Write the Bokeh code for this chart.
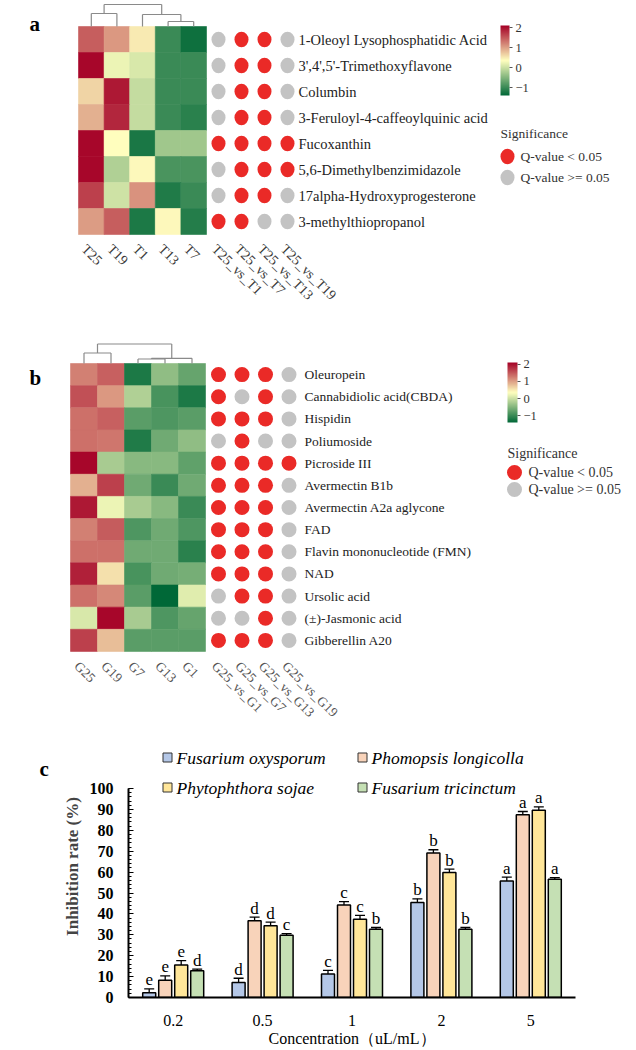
import numpy as np
from bokeh.plotting import figure
from bokeh.models import (Range1d, LinearColorMapper, ColorBar, FixedTicker,
                          ColumnDataSource, Whisker, TeeHead)
from bokeh.layouts import column, row
from bokeh.transform import transform
from bokeh.embed import file_html
from bokeh.resources import INLINE
from bokeh.core.properties import value

FONT = "Liberation Serif"

# ---------------- panel a data ----------------
a_cols = ["T25", "T19", "T1", "T13", "T7"]
a_rows = ["1-Oleoyl Lysophosphatidic Acid", "3',4',5'-Trimethoxyflavone", "Columbin",
          "3-Feruloyl-4-caffeoylquinic acid", "Fucoxanthin", "5,6-Dimethylbenzimidazole",
          "17alpha-Hydroxyprogesterone", "3-methylthiopropanol"]
a_vals = [
    [1.45, 1.05, 0.50, -1.00, -1.30],
    [2.05, 0.22, 0.08, -1.00, -1.00],
    [0.65, 1.93, -0.05, -1.00, -1.00],
    [0.89, 1.83, -0.05, -1.00, -1.10],
    [2.05, 0.35, -1.22, -0.30, -0.30],
    [2.05, -0.19, 0.40, -0.89, -0.89],
    [1.66, 0.02, 1.10, -1.18, -1.00],
    [1.03, 1.45, -1.20, 0.40, -1.15],
]
a_comp = ["T25_vs_T1", "T25_vs_T7", "T25_vs_T13", "T25_vs_T19"]
a_sig = [[0, 1, 1, 0], [0, 1, 1, 0], [0, 1, 1, 0], [0, 1, 1, 0],
         [1, 1, 1, 1], [0, 1, 1, 1], [0, 1, 1, 0], [1, 1, 0, 0]]
# merges: (left node, right node, height)
a_merges = [(3, 4, 5.0), (0, 1, 13.0), (2, 5, 12.0), (6, 7, 22.0)]

# ---------------- panel b data ----------------
b_cols = ["G25", "G19", "G7", "G13", "G1"]
b_rows = ["Oleuropein", "Cannabidiolic acid(CBDA)", "Hispidin", "Poliumoside", "Picroside III",
          "Avermectin B1b", "Avermectin A2a aglycone", "FAD", "Flavin mononucleotide (FMN)",
          "NAD", "Ursolic acid", "(\u00b1)-Jasmonic acid", "Gibberellin A20"]
b_vals = [
    [1.22, 1.44, -1.20, -0.41, -0.69],
    [1.55, 1.06, -0.19, -0.90, -1.20],
    [1.33, 1.44, -0.78, -0.86, -0.78],
    [1.33, 1.28, -1.18, -0.63, -0.41],
    [2.05, -0.25, -0.47, -0.47, -0.74],
    [0.89, 1.66, -0.63, -1.00, -0.63],
    [1.93, 0.22, -0.25, -0.47, -1.00],
    [1.22, 1.47, -0.86, -0.63, -0.86],
    [1.33, 1.33, -0.63, -0.63, -1.10],
    [1.88, 0.56, -0.90, -0.63, -0.58],
    [1.33, 1.17, -0.78, -1.40, 0.14],
    [0.08, 2.05, -0.25, -0.86, -0.69],
    [1.66, 0.79, -0.78, -0.78, -0.78],
]
b_comp = ["G25_vs_G1", "G25_vs_G7", "G25_vs_G13", "G25_vs_G19"]
b_sig = [[1, 1, 1, 0], [1, 0, 1, 0], [1, 1, 1, 0], [0, 1, 0, 0], [1, 1, 1, 1],
         [1, 1, 1, 0], [1, 1, 1, 0], [1, 1, 1, 0], [1, 1, 1, 0], [1, 1, 1, 0],
         [0, 1, 1, 0], [0, 0, 1, 0], [1, 1, 1, 0]]
b_merges = [(2, 3, 4.5), (5, 4, 5.2), (0, 1, 10.5), (7, 6, 19.5)]

# ---------------- panel c data ----------------
conc = ["0.2", "0.5", "1", "2", "5"]
species = ["Fusarium oxysporum", "Phomopsis longicolla", "Phytophthora sojae", "Fusarium tricinctum"]
sp_colors = ["#b4c7e7", "#f8d3ba", "#ffe699", "#c5e0b4"]
rate_fo = [2.3, 7.2, 11.2, 45.4, 55.8]
rate_pl = [8.3, 36.7, 44.3, 69.1, 87.4]
rate_ps = [15.6, 34.3, 37.5, 59.8, 89.6]
rate_ft = [12.8, 29.8, 32.7, 32.7, 56.6]
err_fo = [1.8, 2.0, 1.8, 1.8, 1.8]
err_pl = [2.0, 1.8, 1.6, 1.6, 1.6]
err_ps = [2.0, 1.8, 1.8, 1.6, 1.6]
err_ft = [0.8, 0.8, 0.8, 0.8, 0.8]
let_fo = ["e", "d", "c", "b", "a"]
let_pl = ["e", "d", "c", "b", "a"]
let_ps = ["e", "d", "c", "b", "a"]
let_ft = ["d", "c", "b", "b", "a"]

# ---------------- colour map ----------------
def ramp(c_list, n=256):
    cols = [tuple(int(c[i:i + 2], 16) for i in (1, 3, 5)) for c in c_list]
    out = []
    segs = len(cols) - 1
    for k in range(n):
        t = k / (n - 1) * segs
        s = min(int(t), segs - 1)
        f = t - s
        c0, c1 = cols[s], cols[s + 1]
        out.append("#%02x%02x%02x" % tuple(int(round(c0[i] + (c1[i] - c0[i]) * f)) for i in range(3)))
    return out

palette = ramp(["#006837", "#ffffbf", "#a50026"])
mapper = LinearColorMapper(palette=palette, low=-1.4, high=2.1)
RED, GRAY = "#ea2a27", "#c3c3c3"
W = 636


def base_fig(w, h):
    p = figure(width=w, height=h, x_range=Range1d(0, w), y_range=Range1d(h, 0),
               toolbar_location=None, output_backend="svg", min_border=0,
               x_axis_type=None, y_axis_type=None, outline_line_color=None,
               frame_align=False)
    p.xgrid.visible = False
    p.ygrid.visible = False
    return p


def heat_panel(p, cols, rows, vals, comp, sig, merges, lay):
    left, top, cw, ch = lay["left"], lay["top"], lay["cw"], lay["ch"]
    xs, ys, vv = [], [], []
    for i, r in enumerate(rows):
        for j, c in enumerate(cols):
            xs.append(left + cw * (j + 0.5))
            ys.append(top + ch * (i + 0.5))
            vv.append(vals[i][j])
    src = ColumnDataSource(dict(x=xs, y=ys, v=vv))
    p.rect("x", "y", width=cw, height=ch, source=src,
           fill_color=transform("v", mapper), line_color=transform("v", mapper), line_width=0.6)
    # dendrogram
    n = len(cols)
    nx = {i: left + cw * (i + 0.5) for i in range(n)}
    nh = {i: 0.0 for i in range(n)}
    x0, y0, x1, y1 = [], [], [], []
    s = lay["dscale"]
    for k, (a, b, h) in enumerate(merges):
        xa, xb = nx[a], nx[b]
        ya, yb, yh = top - nh[a] * s, top - nh[b] * s, top - h * s
        x0 += [xa, xa, xb]; y0 += [ya, yh, yb]
        x1 += [xa, xb, xb]; y1 += [yh, yh, yh]
        nx[n + k] = (xa + xb) / 2
        nh[n + k] = h
    p.segment(x0, y0, x1, y1, line_color="#8a8a8a", line_width=1.2)
    # significance dots
    dx, dy, dc = [], [], []
    for i in range(len(rows)):
        for k in range(len(comp)):
            dx.append(lay["dot0"] + lay["dstep"] * k)
            dy.append(top + ch * (i + 0.5))
            dc.append(RED if sig[i][k] else GRAY)
    p.ellipse(dx, dy, width=lay["dw"], height=lay["dh"], fill_color=dc, line_color=None)
    # row labels
    p.text([lay["lab_x"]] * len(rows), [top + ch * (i + 0.5) for i in range(len(rows))], text=rows,
           text_font=value(FONT), text_font_size=lay["fs"], text_color="#222222",
           text_baseline="middle", text_align="left")
    # column labels (rotated)
    bottom = top + ch * len(rows)
    lx = [left + cw * (j + 0.5) - 2 for j in range(n)] + [lay["dot0"] + lay["dstep"] * k + 1 for k in range(len(comp))]
    p.text(lx, [bottom + 7] * len(lx), text=cols + comp, angle=-np.pi / 4,
           text_font=value(FONT), text_font_size=lay["cfs"], text_color=lay["ccol"],
           text_baseline="top", text_align="left")
    # colour bar
    cb = ColorBar(color_mapper=mapper, location=lay["cb_loc"], width=lay["cb_w"], height=lay["cb_h"],
                  ticker=FixedTicker(ticks=[-1, 0, 1, 2]), major_label_overrides={-1: "\u22121"},
                  padding=0, label_standoff=3, bar_line_color=None, border_line_color=None,
                  background_fill_alpha=0, major_tick_in=0, major_tick_out=3,
                  major_tick_line_color="#555555", minor_tick_line_color=None,
                  major_label_text_font=FONT, major_label_text_font_size="12.5px",
                  major_label_text_color="#333333")
    p.add_layout(cb)
    # significance legend
    gx, gy = lay["sig_xy"]
    lfs = lay["lfs"]
    p.text([gx], [gy], text=["Significance"], text_font=value(FONT), text_font_size=lfs,
           text_color="#333333", text_baseline="middle")
    ly = [gy + lay["sig_gap"], gy + 2 * lay["sig_gap"] - 2]
    p.ellipse([gx + lay["sig_dx"]] * 2, ly,
              width=lay["dw"], height=lay["dh"], fill_color=[RED, GRAY], line_color=None)
    p.text([gx + lay["sig_tx"]] * 2, ly,
           text=["Q-value < 0.05", "Q-value >= 0.05"], text_font=value(FONT), text_font_size=lfs,
           text_color="#333333", text_baseline="middle")
    # panel letter
    p.text([lay["let_xy"][0]], [lay["let_xy"][1]], text=[lay["letter"]], text_font=value(FONT),
           text_font_size="21px", text_font_style="bold", text_color="black",
           text_baseline="alphabetic")


# ---------------- panel a ----------------
HA = 318
pa = base_fig(W, HA)
heat_panel(pa, a_cols, a_rows, a_vals, a_comp, a_sig, a_merges, dict(
    left=78, top=26, cw=25.6, ch=26, dscale=1.0, dot0=218, dstep=23, dw=14, dh=15.5,
    lab_x=298, fs="14.5px", cfs="14px", ccol="#3a3a3a",
    cb_loc=(500, HA - 95), cb_w=9, cb_h=70,
    sig_xy=(500, 133), sig_dx=7, sig_tx=20, sig_gap=23, lfs="13.5px",
    let_xy=(29, 23), letter="a"))

# ---------------- panel b ----------------
HB = 417
pb = base_fig(W, HB)
heat_panel(pb, b_cols, b_rows, b_vals, b_comp, b_sig, b_merges, dict(
    left=70, top=45, cw=27, ch=22.15, dscale=1.0, dot0=218, dstep=23.5, dw=15, dh=15,
    lab_x=304, fs="13.5px", cfs="13.5px", ccol="#555555",
    cb_loc=(507, HB - 104), cb_w=10, cb_h=60,
    sig_xy=(507, 135), sig_dx=7, sig_tx=21, sig_gap=19, lfs="14px",
    let_xy=(29, 59), letter="b"))

# ---------------- panel c ----------------
FW, FH = 447, 262
BOT = 48
LW = 56
px_per_unit = 209 / 100.0
px_per_cat = FW / 5.0
pc = figure(frame_width=FW, frame_height=FH, x_range=Range1d(0, 5),
            y_range=Range1d(0, FH / px_per_unit),
            toolbar_location=None, output_backend="svg", min_border_left=128 - LW,
            min_border_right=W - 128 - FW, min_border_top=0, min_border_bottom=BOT,
            outline_line_color=None, frame_align=False)
pc.xgrid.visible = False
pc.ygrid.visible = False

rates = [rate_fo, rate_pl, rate_ps, rate_ft]
errs = [err_fo, err_pl, err_ps, err_ft]
lets = [let_fo, let_pl, let_ps, let_ft]
step = 16 / px_per_cat
bw = 13 / px_per_cat
for j in range(4):
    xs = [i + 0.5 + (j - 1.5) * step for i in range(len(conc))]
    top = [r + e for r, e in zip(rates[j], errs[j])]
    lo = [r - e for r, e in zip(rates[j], errs[j])]
    src = ColumnDataSource(dict(x=xs, y=rates[j], up=top, lo=lo, lab=lets[j]))
    pc.vbar(x="x", top="y", width=bw, source=src, fill_color=sp_colors[j],
            line_color="black", line_width=1.5)
    pc.add_layout(Whisker(base="x", upper="up", lower="lo", source=src, line_color="black",
                          line_width=1.3,
                          upper_head=TeeHead(size=10, line_color="black", line_width=1.3),
                          lower_head=TeeHead(size=10, line_color="black", line_width=1.3)))
    pc.text(x="x", y="up", text="lab", source=src, y_offset=-9, text_align="center",
            text_baseline="alphabetic", text_font=value(FONT), text_font_size="17px",
            text_color="black")

# legend (2 x 2), positions in page pixels converted to data units
leg_px = [(167, 757), (362, 757), (167, 787), (362, 787)]
for j, (lx, ly) in enumerate(leg_px):
    xd = (lx - 128) / px_per_cat
    yd = (997 - ly) / px_per_unit
    pc.scatter([xd], [yd], marker="square", size=9, fill_color=sp_colors[j], line_color="#333333",
               line_width=1)
    pc.text([xd + 9 / px_per_cat], [yd], text=[species[j]], text_font=value(FONT),
            text_font_size="17.5px", text_font_style="italic", text_color="black",
            text_baseline="middle", text_align="left")

pc.yaxis.ticker = FixedTicker(ticks=list(range(0, 101, 10)), minor_ticks=list(range(0, 101, 2)))
pc.yaxis.bounds = (0, 100)
pc.yaxis.axis_line_width = 2
pc.yaxis.major_tick_in = 5
pc.yaxis.major_tick_out = 0
pc.yaxis.minor_tick_in = 3
pc.yaxis.minor_tick_out = 0
pc.yaxis.major_label_standoff = 15
pc.yaxis.major_label_text_font = FONT
pc.yaxis.major_label_text_font_style = "bold"
pc.yaxis.major_label_text_font_size = "16px"
pc.yaxis.major_label_text_color = "black"
pc.yaxis.axis_label = "Inhibition rate (%)"
pc.yaxis.axis_label_text_font = FONT
pc.yaxis.axis_label_text_font_style = "bold"
pc.yaxis.axis_label_text_font_size = "17px"
pc.yaxis.axis_label_standoff = 5

pc.xaxis.ticker = FixedTicker(ticks=[i + 0.5 for i in range(len(conc))])
pc.xaxis.major_label_overrides = {i + 0.5: c for i, c in enumerate(conc)}
pc.xaxis.axis_line_width = 2
pc.xaxis.major_tick_line_color = None
pc.xaxis.minor_tick_line_color = None
pc.xaxis.major_label_standoff = 11
pc.xaxis.major_label_text_font = FONT
pc.xaxis.major_label_text_font_size = "16px"
pc.xaxis.major_label_text_color = "black"
pc.xaxis.axis_label = "Concentration\uff08uL/mL\uff09"
pc.xaxis.axis_label_text_font = FONT
pc.xaxis.axis_label_text_font_style = "normal"
pc.xaxis.axis_label_text_font_size = "16px"
pc.xaxis.axis_label_text_color = "black"
pc.xaxis.axis_label_standoff = 1

# panel letter c in a narrow companion figure
HC = FH + BOT
pcl = base_fig(LW, HC)
pcl.text([39], [33], text=["c"], text_font=value(FONT), text_font_size="21px",
         text_font_style="bold", text_color="black", text_baseline="alphabetic")

layout = column(pa, pb, row(pcl, pc, spacing=0), spacing=0)
open("out.html", "w").write(file_html(layout, INLINE))
